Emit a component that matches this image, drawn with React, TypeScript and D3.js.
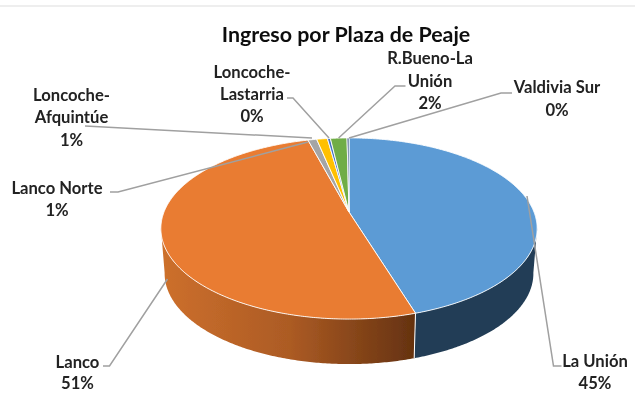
import React from "react";
import * as d3 from "d3";

const categories = ["La Unión", "Lanco", "Lanco Norte", "Loncoche-Afquintúe", "Loncoche-Lastarria", "R.Bueno-La Unión", "Valdivia Sur"];
const shares = [45.2, 50.6, 0.9, 1.1, 0.3, 1.7, 0.2];
const percentLabels = ["45%", "51%", "1%", "1%", "0%", "2%", "0%"];
const colors = ["#5B9BD5", "#E97C31", "#A5A5A5", "#FFC000", "#4472C4", "#70AD47", "#264478"];
const labelLines = [["La Unión"], ["Lanco"], ["Lanco Norte"], ["Loncoche-", "Afquintúe"], ["Loncoche-", "Lastarria"], ["R.Bueno-La", "Unión"], ["Valdivia Sur"]];

// layout of the labels and leader lines
const labelPos = [
  { x: 595, y: [361, 383] },
  { x: 77.5, y: [362, 383] },
  { x: 57, y: [188, 210] },
  { x: 71.5, y: [95, 117, 140] },
  { x: 252, y: [72, 94, 116] },
  { x: 430, y: [58, 81, 103] },
  { x: 557, y: [87, 110] },
];
const leaders = [
  [[561.5, 366], [553.5, 366], [527, 196]],
  [[103, 366], [109.5, 366], [167.5, 279]],
  [[110, 192], [118, 192], [308, 142]],
  [[85, 126], [312, 138]],
  [[287, 98], [293, 98], [329, 138]],
  [[405.5, 86], [395, 86], [338.6, 138]],
  [[512, 93], [501, 93], [349, 138]],
];

const CX = 349, CY = 212, A = 185, K = -0.182, B = 49, DEPTH = 45, SHRINK = 0.98;
const project = (t: number): [number, number] => {
  const u = Math.sin(t), v = -Math.cos(t), d = 1 + K * v;
  return [CX + (A * u) / d, (B * v + CY) / d];
};
const lower = (t: number): [number, number] => {
  const [x, y] = project(t);
  return [CX + (x - CX) * SHRINK, y + DEPTH];
};
const arcs = d3.pie<number>().sort(null)(shares);
const line = d3.line();
const samples = (a: number, b: number) => {
  const n = Math.max(2, Math.ceil(Math.abs(b - a) / 0.01));
  return d3.range(n + 1).map((i) => a + ((b - a) * i) / n);
};
const SIDE_A = (100 * Math.PI) / 180, SIDE_B = (260 * Math.PI) / 180;
const FONT = "Lato, 'Open Sans', sans-serif";

export default function App() {
  return (
    <svg width={635} height={405} style={{ position: "absolute", left: 0, top: 0, background: "#fff" }}>
      <defs>
        <linearGradient id="orangeSide" gradientUnits="userSpaceOnUse" x1={165} x2={415} y1={0} y2={0}>
          <stop offset="0" stopColor="#CC6F2C" />
          <stop offset="0.5" stopColor="#AC5B24" />
          <stop offset="1" stopColor="#653210" />
        </linearGradient>
        <filter id="soft" x="-5%" y="-5%" width="110%" height="110%">
          <feGaussianBlur stdDeviation="0.45" />
        </filter>
      </defs>
      <rect x={0} y={5} width={635} height={2} fill="#EEEEEE" />
      <g filter="url(#soft)">
        {arcs.map((s, i) => {
          const a = Math.max(s.startAngle, SIDE_A), b = Math.min(s.endAngle, SIDE_B);
          if (b <= a) return null;
          const ts = samples(a, b);
          const pts = [...ts.map(project), ...ts.slice().reverse().map(lower)];
          return (
            <path key={categories[i]} d={line(pts) + "Z"}
              fill={i === 1 ? "url(#orangeSide)" : "#233E56"} stroke="none" />
          );
        })}
        <path d={line([project(arcs[0].endAngle), lower(arcs[0].endAngle)]) ?? ""} stroke="#fff" strokeWidth={1} fill="none" />
        {arcs.map((s, i) => (
          <path key={categories[i]}
            d={line([[CX, CY], ...samples(s.startAngle, s.endAngle).map(project)]) + "Z"}
            fill={colors[i]} stroke="#fff" strokeWidth={0.9} strokeLinejoin="round" />
        ))}
        {leaders.map((p, i) => (
          <path key={i} d={line(p as [number, number][]) ?? ""} fill="none" stroke="#A0A0A0" strokeWidth={1.5} />
        ))}
        <text x={346} y={42} textAnchor="middle" fontFamily={FONT} fontWeight={700} fontSize={21.4} fill="#111">
          Ingreso por Plaza de Peaje
        </text>
        {categories.map((c, i) => {
          const rows = [...labelLines[i], percentLabels[i]];
          return rows.map((r, j) => (
            <text key={c + j} x={labelPos[i].x} y={labelPos[i].y[j] + 6} textAnchor="middle"
              fontFamily={FONT} fontWeight={700} fontSize={16.6} fill="#222">
              {r}
            </text>
          ));
        })}
      </g>
    </svg>
  );
}
